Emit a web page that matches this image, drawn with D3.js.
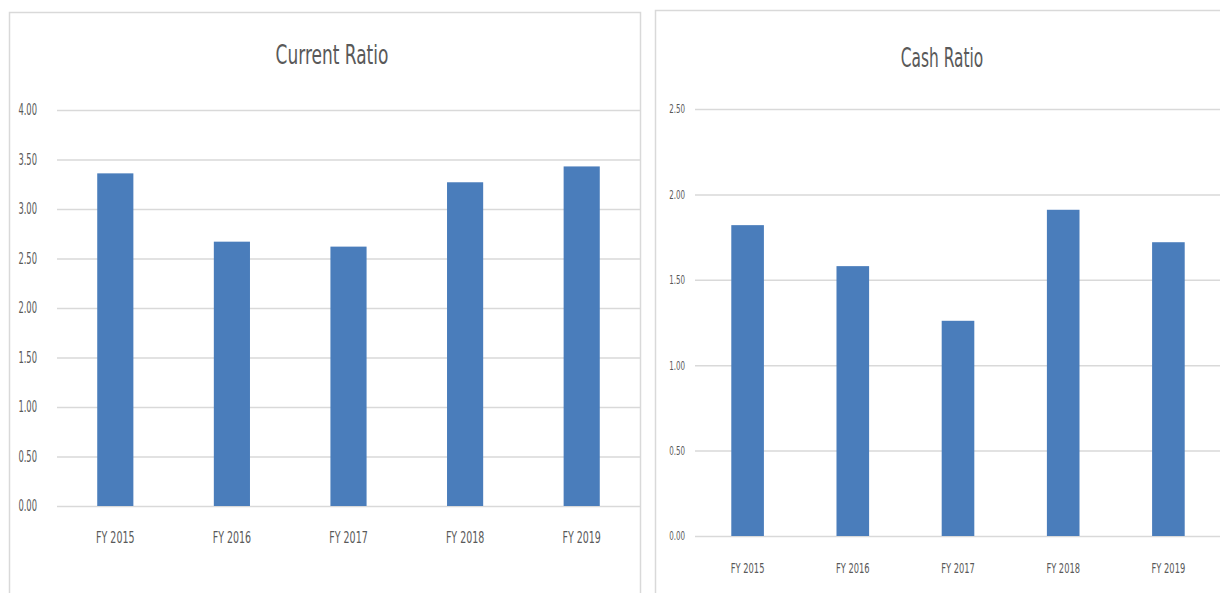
<!DOCTYPE html>
<html>
<head>
<meta charset="utf-8">
<script src="https://cdn.jsdelivr.net/npm/d3@7"></script>
<style>
  body { margin: 0; background: #fff; }
  svg { display: block; }
</style>
</head>
<body>
<div id="chart-area"></div>
<script>
const width = 1220, height = 593;

const years = ["FY 2015", "FY 2016", "FY 2017", "FY 2018", "FY 2019"];
const currentRatio = [3.36, 2.67, 2.62, 3.27, 3.43];
const cashRatio = [1.82, 1.58, 1.26, 1.91, 1.72];
const currentTicks = [0, 0.5, 1, 1.5, 2, 2.5, 3, 3.5, 4];
const cashTicks = [0, 0.5, 1, 1.5, 2, 2.5];

const font = "'Liberation Sans Narrow', 'DejaVu Sans Condensed', sans-serif";

const svg = d3.select("#chart-area").append("svg")
    .attr("width", width)
    .attr("height", height);

// chart frames
svg.append("rect")
    .attr("x", 9.5).attr("y", 12.5)
    .attr("width", 631).attr("height", 600)
    .attr("fill", "none").attr("stroke", "#d9d9d9").attr("stroke-width", 1.5);
svg.append("rect")
    .attr("x", 655.5).attr("y", 10.5)
    .attr("width", 600).attr("height", 600)
    .attr("fill", "none").attr("stroke", "#d9d9d9").attr("stroke-width", 1.5);

function drawChart(opts) {
    const g = svg.append("g");

    const x = d3.scaleBand()
        .domain(years)
        .range([opts.left, opts.right])
        .paddingInner(0.69)
        .paddingOuter(0.345);

    const y = d3.scaleLinear()
        .domain([0, d3.max(opts.ticks)])
        .range([opts.bottom, opts.top]);

    // title (squeezed sideways like the source picture)
    g.append("text")
        .attr("transform", `translate(${opts.titleX},${opts.titleY}) scale(${opts.titleSx},1)`)
        .attr("text-anchor", "middle")
        .attr("font-family", font)
        .attr("font-size", opts.titleSize)
        .attr("fill", "#595959")
        .text(opts.title);

    // y axis with gridlines
    const yAxis = g.append("g")
        .attr("transform", `translate(${opts.left},0)`)
        .call(d3.axisLeft(y)
            .tickValues(opts.ticks)
            .tickFormat(d3.format(".2f"))
            .tickSize(-(opts.right - opts.left)));
    yAxis.select(".domain").remove();
    yAxis.selectAll(".tick line")
        .attr("stroke", "#d9d9d9")
        .attr("stroke-width", 1.5);
    yAxis.selectAll(".tick text")
        .attr("x", 0)
        .attr("transform", `translate(${-opts.tickPad},0) scale(${opts.ySx},1)`)
        .attr("font-family", font)
        .attr("font-size", opts.yFont)
        .attr("fill", "#595959");

    // bars
    g.append("g")
        .attr("fill", "#4a7dbb")
        .selectAll("rect")
        .data(opts.values)
        .join("rect")
            .attr("x", (d, i) => x(years[i]))
            .attr("width", x.bandwidth())
            .attr("y", d => y(d))
            .attr("height", d => y(0) - y(d));

    // x axis
    const xAxis = g.append("g")
        .attr("transform", `translate(0,${opts.bottom})`)
        .call(d3.axisBottom(x).tickSize(0).tickPadding(opts.xPad));
    xAxis.select(".domain").remove();
    xAxis.selectAll(".tick text")
        .attr("transform", `scale(${opts.xSx},1)`)
        .attr("font-family", font)
        .attr("font-size", opts.xFont)
        .attr("fill", "#595959");
}

drawChart({
    title: "Current Ratio",
    values: currentRatio,
    ticks: currentTicks,
    left: 57, right: 640, top: 110, bottom: 506,
    titleX: 332, titleY: 64, titleSize: 27, titleSx: 0.7,
    yFont: 15, tickPad: 20, ySx: 0.62, xFont: 16, xPad: 26, xSx: 0.66
});

drawChart({
    title: "Cash Ratio",
    values: cashRatio,
    ticks: cashTicks,
    left: 695, right: 1221, top: 109, bottom: 536,
    titleX: 942, titleY: 67, titleSize: 26, titleSx: 0.66,
    yFont: 12, tickPad: 10, ySx: 0.66, xFont: 14, xPad: 27, xSx: 0.66
});
</script>
</body>
</html>
